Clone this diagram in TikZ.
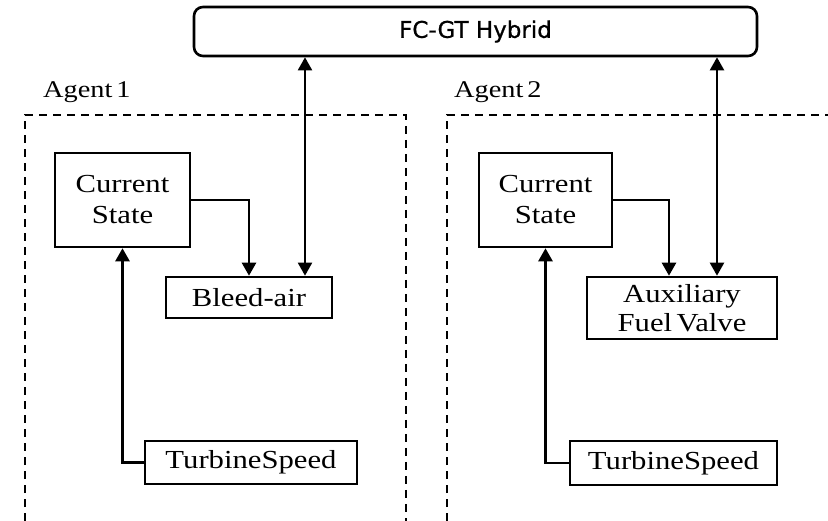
\documentclass[tikz,border=0pt]{standalone}
\usepackage{fontspec}
\setmainfont{Liberation Serif}[FakeStretch=1.18]
\newfontfamily\titlefont{DejaVu Sans}[FakeBold=0.8]
\usetikzlibrary{arrows.meta}
\begin{document}
\begin{tikzpicture}[x=1pt, y=-1pt, >={Triangle[length=13pt,width=14pt]},
    block/.style={draw, line width=2.6pt, inner sep=0pt, align=center,
        font=\fontsize{26}{31}\selectfont},
    frame/.style={line width=2.4pt, dash pattern=on 8pt off 6pt},
    link/.style={line width=2.5pt},
    agentlabel/.style={anchor=west, inner sep=0pt, font=\fontsize{24}{26}\selectfont}]
    \useasboundingbox (0,0) rectangle (828,521);

    % Hybrid system on top
    \node[draw, line width=2.6pt, rounded corners=9pt, minimum width=563pt, minimum height=49pt,
        font=\titlefont\fontsize{23}{26}\selectfont] (hybrid) at (475.5,31.5) {FC-GT Hybrid};

    % Agent frames (open at the bottom)
    \draw[frame] (25,521) -- (25,115) -- (406,115) -- (406,521);
    \draw[frame] (447,521) -- (447,115) -- (828,115);
    \node[agentlabel] (lab1) at (43,92) {Agent\,1};
    \node[agentlabel] (lab2) at (454,92) {Agent\,2};

    % Agent 1
    \node[block, minimum width=135pt, minimum height=94pt] (state1) at (122.5,200) {Current\\State};
    \node[block, minimum width=166pt, minimum height=41pt] (bleed) at (249,297.5) {Bleed-air};
    \node[block, minimum width=212pt, minimum height=43pt] (speed1) at (251,462.5) {TurbineSpeed};

    % Agent 2
    \node[block, minimum width=133pt, minimum height=94pt] (state2) at (545.5,200) {Current\\State};
    \node[block, minimum width=190pt, minimum height=62pt, font=\fontsize{26}{29}\selectfont] (valve) at (682,308) {Auxiliary\\Fuel\,Valve};
    \node[block, minimum width=207pt, minimum height=44pt] (speed2) at (673.5,463) {TurbineSpeed};

    % Connectors
    \coordinate (tap1) at (305,0);
    \coordinate (tap2) at (717,0);
    \coordinate (drop2) at (669,0);
    \draw[link, ->] (state1.east) -| (bleed.north);
    \draw[link, ->] (speed1.west) -| (state1.south);
    \draw[line width=2pt, <->] (hybrid.south -| tap1) -- (bleed.north -| tap1);
    \draw[link, ->] (state2.east) -| (valve.north -| drop2);
    \draw[link, ->] (speed2.west) -| (state2.south);
    \draw[line width=2.2pt, <->] (hybrid.south -| tap2) -- (valve.north -| tap2);
\end{tikzpicture}
\end{document}
